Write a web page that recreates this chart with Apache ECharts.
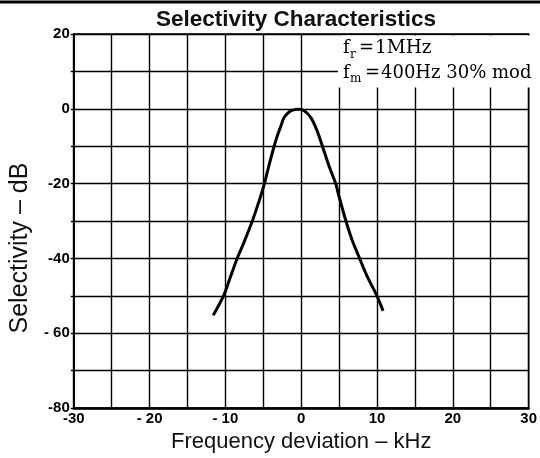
<!DOCTYPE html>
<html>
<head>
<meta charset="utf-8">
<script src="https://cdn.jsdelivr.net/npm/echarts@6/dist/echarts.min.js"></script>
<style>
html,body{margin:0;padding:0;background:#fff;}
#chart{width:540px;height:458px;}
</style>
</head>
<body>
<div id="chart"></div>
<script>
// ---- data ----
const freqKHz = [-11.6, -10.2, -9.4, -8.45, -7.55, -6.45, -5.45, -4.85, -4.3, -3.6, -3.2, -2.7, -2.3, -1.8, -1.3, -0.5, 0.3, 1.3, 2.1, 2.8, 3.7, 4.55, 5.0, 5.9, 6.7, 7.7, 8.7, 9.9, 10.8];
const selectivityDb = [-55.2, -49.8, -45.3, -40, -35.7, -30, -24, -20, -15.5, -10.2, -7.5, -4.7, -2.5, -1.2, -0.5, -0.1, -0.4, -2.4, -5.9, -10, -15.5, -20, -23.5, -30, -35, -40, -44.8, -49.6, -54];
const xTickValues = [-30, -20, -10, 0, 10, 20, 30];
const xTickLabels = ['-30', '- 20', '- 10', '0', '10', '20', '30'];
const yTickValues = [20, 0, -20, -40, -60, -80];
const yTickLabels = ['20', '0', '-20', '-40', '- 60', '-80'];
const titleText = 'Selectivity Characteristics';
const xName = 'Frequency deviation \u2013 kHz';
const yName = 'Selectivity \u2013 dB';

const chart = echarts.init(document.getElementById('chart'), null, {renderer: 'canvas'});
const points = freqKHz.map((x, i) => [x, selectivityDb[i]]);
const tickFont = '"Liberation Sans Narrow", "Liberation Sans", Arial, sans-serif';
const serif = '"DejaVu Serif", "Liberation Serif", serif';
const X0 = 343; // left edge of the note (5 kHz grid line)

const option = {
  backgroundColor: '#fff',
  animation: false,
  title: {
    text: titleText,
    left: 291, top: 3, textAlign: 'center',
    textStyle: {fontFamily: '"Liberation Sans", Arial, sans-serif', fontWeight: 'bold', fontSize: 22.5, color: '#111'}
  },
  grid: {left: 72, right: 3, top: 34, bottom: 44, show: true, borderColor: '#000', borderWidth: 1.5, backgroundColor: 'transparent'},
  xAxis: {
    type: 'value', min: -30, max: 30, interval: 5,
    name: xName, nameLocation: 'middle', nameGap: 18,
    nameTextStyle: {fontFamily: '"Liberation Sans", Arial, sans-serif', fontSize: 22, color: '#111'},
    axisLine: {show: true, onZero: false, lineStyle: {color: '#000', width: 2.5}},
    axisTick: {show: false},
    axisLabel: {
      margin: 3, color: '#000', fontFamily: tickFont, fontWeight: 'bold', fontSize: 15,
      formatter: v => { const i = xTickValues.indexOf(v); return i >= 0 ? xTickLabels[i] : ''; }
    },
    splitLine: {show: true, lineStyle: {color: '#000', width: 1.4}}
  },
  yAxis: {
    type: 'value', min: -80, max: 20, interval: 10,
    name: yName, nameLocation: 'middle', nameGap: 36, nameRotate: 90,
    nameTextStyle: {fontFamily: '"Liberation Sans", Arial, sans-serif', fontSize: 25, color: '#111', padding: [0, 54, 0, 0]},
    axisLine: {show: true, onZero: false, lineStyle: {color: '#000', width: 2}},
    axisTick: {show: true, length: 3, lineStyle: {color: '#000', width: 1.4}},
    axisLabel: {
      margin: 4, color: '#000', fontFamily: tickFont, fontWeight: 'bold', fontSize: 15,
      formatter: v => { const i = yTickValues.indexOf(v); return i >= 0 ? yTickLabels[i] : ''; }
    },
    splitLine: {show: true, lineStyle: {color: '#000', width: 1.4}}
  },
  series: [{
    type: 'line', data: points, smooth: 0.3, showSymbol: false, symbol: 'none',
    lineStyle: {color: '#000', width: 3}, z: 5
  }],
  graphic: [
    {type: 'line', shape: {x1: 0, y1: 2, x2: 540, y2: 2}, style: {stroke: '#000', lineWidth: 3}, z: 100},
    {type: 'rect', shape: {x: X0 - 5, y: 35.5, width: 198, height: 52}, style: {fill: '#fff'}, z: 50},
    {type: 'text', left: X0, top: 39, style: {text: 'f', font: '18px ' + serif, fill: '#000'}, z: 51},
    {type: 'text', left: X0 + 7, top: 49, style: {text: 'r', font: '12px ' + serif, fill: '#000'}, z: 51},
    {type: 'text', left: X0 + 16, top: 39, style: {text: '=', font: '18px ' + serif, fill: '#000'}, z: 51},
    {type: 'text', left: X0 + 32, top: 39, style: {text: '1MHz', font: '18.5px ' + serif, fill: '#000'}, z: 51},
    {type: 'text', left: X0, top: 64, style: {text: 'f', font: '18px ' + serif, fill: '#000'}, z: 51},
    {type: 'text', left: X0 + 7, top: 73, style: {text: 'm', font: '12px ' + serif, fill: '#000'}, z: 51},
    {type: 'text', left: X0 + 22, top: 64, style: {text: '=', font: '18px ' + serif, fill: '#000'}, z: 51},
    {type: 'text', left: X0 + 38, top: 64, style: {text: '400Hz 30% mod', font: '18px ' + serif, fill: '#000'}, z: 51}
  ]
};
chart.setOption(option);
</script>
</body>
</html>
